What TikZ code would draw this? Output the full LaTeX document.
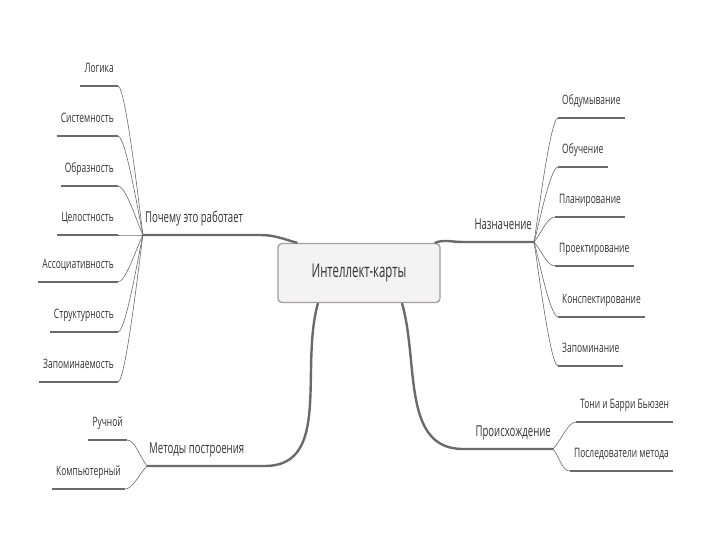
\documentclass[tikz,border=0pt]{standalone}
\usepackage{fontspec}
\setmainfont{Open Sans}
\newfontfamily\mapfont[FakeStretch=0.6]{Open Sans}
\newfontfamily\branchfont[FakeStretch=0.64]{Open Sans}
\newfontfamily\leaffont[FakeStretch=0.65]{Open Sans}
\usetikzlibrary{positioning}

\definecolor{txtgray}{HTML}{333333}
\definecolor{linegray}{HTML}{6A6A6A}
\definecolor{boxline}{HTML}{A99C9C}
\definecolor{boxfill}{HTML}{F3F3F3}

\begin{document}
\begin{tikzpicture}[
    x=1pt, y=1pt,
    mapstyle/.style={rectangle, rounded corners=4pt, draw=boxline, line width=1.3pt,
        fill=boxfill, minimum width=162pt, minimum height=59pt,
        font=\mapfont\fontsize{19}{23}\selectfont, text=txtgray},
    branchstyle/.style={inner xsep=2pt, inner ysep=3pt, text height=10pt, text depth=9pt,
        font=\branchfont\fontsize{15}{18}\selectfont, text=txtgray},
    leafstyle/.style={inner xsep=4pt, inner ysep=2pt, text height=9pt, text depth=11pt,
        font=\leaffont\fontsize{13}{15}\selectfont, text=txtgray},
    trunk/.style={draw=linegray, line width=2.4pt},
    leafline/.style={draw=linegray, line width=1.6pt},
    twig/.style={draw=linegray, line width=0.6pt, out distance=8pt, in distance=12pt}
]
\useasboundingbox (0,0) rectangle (720,540);

\node[mapstyle] (map) at (359,267) {Интеллект-карты};

\coordinate (whyhub) at (143,305);
\coordinate (purphub) at (534,298);
\coordinate (methhub) at (147,74);
\coordinate (orighub) at (553,91);

\node[branchstyle, anchor=south west] (why) at (whyhub) {Почему это работает};
\node[branchstyle, anchor=south east] (purp) at (purphub) {Назначение};
\node[branchstyle, anchor=south west] (meth) at (methhub) {Методы построения};
\node[branchstyle, anchor=south east] (orig) at (orighub) {Происхождение};

\draw[trunk] (whyhub) -- ++(117,0) to[out=0,in=165] ([xshift=20pt]map.north west);
\draw[trunk] (purphub) -- ++(-72,0) to[out=180,in=20] ([xshift=-6pt]map.north east);
\draw[trunk] (methhub) -- ++(118,0) to[out=0,in=254] ([xshift=-41pt]map.south);
\draw[trunk] (orighub) -- ++(-90,0) to[out=180,in=286] ([xshift=43pt]map.south);

\node[leafstyle, anchor=south east] (logic) at (118,454) {Логика};
\node[leafstyle, anchor=south east] (system) at (118,404) {Системность};
\node[leafstyle, anchor=south east] (image) at (118,354) {Образность};
\node[leafstyle, anchor=south east] (whole) at (118,305) {Целостность};
\node[leafstyle, anchor=south east] (assoc) at (118,258) {Ассоциативность};
\node[leafstyle, anchor=south east] (struct) at (118,208) {Структурность};
\node[leafstyle, anchor=south east] (memor) at (118,158) {Запоминаемость};

\foreach \leaf/\ang in {logic/99, system/104, image/117, whole/180, assoc/241, struct/255, memor/260} {
    \draw[leafline] (\leaf.south west) -- (\leaf.south east);
    \draw[twig] (\leaf.south east) to[out=0,in=\ang] (whyhub);
}

\node[leafstyle, anchor=south west] (think) at (558,422) {Обдумывание};
\node[leafstyle, anchor=south west] (learn) at (558,373) {Обучение};
\node[leafstyle, anchor=south west] (plan) at (555,323) {Планирование};
\node[leafstyle, anchor=south west] (design) at (555,274) {Проектирование};
\node[leafstyle, anchor=south west] (notes) at (558,223) {Конспектирование};
\node[leafstyle, anchor=south west] (memo) at (558,174) {Запоминание};

\foreach \leaf/\ang in {think/79, learn/72, plan/50, design/311, notes/288, memo/281} {
    \draw[leafline] (\leaf.south west) -- (\leaf.south east);
    \draw[twig] (\leaf.south west) to[out=180,in=\ang] (purphub);
}

\node[leafstyle, anchor=south east] (hand) at (127,100) {Ручной};
\node[leafstyle, anchor=south east] (comp) at (125,51) {Компьютерный};

\foreach \leaf/\ang in {hand/128, comp/226} {
    \draw[leafline] (\leaf.south west) -- (\leaf.south east);
    \draw[twig] (\leaf.south east) to[out=0,in=\ang] (methhub);
}

\node[leafstyle, anchor=south west] (buzan) at (576,118) {Тони и Барри Бьюзен};
\node[leafstyle, anchor=south west] (follow) at (570,69) {Последователи метода};

\foreach \leaf/\ang in {buzan/47, follow/308} {
    \draw[leafline] (\leaf.south west) -- (\leaf.south east);
    \draw[twig] (\leaf.south west) to[out=180,in=\ang] (orighub);
}

\end{tikzpicture}
\end{document}
